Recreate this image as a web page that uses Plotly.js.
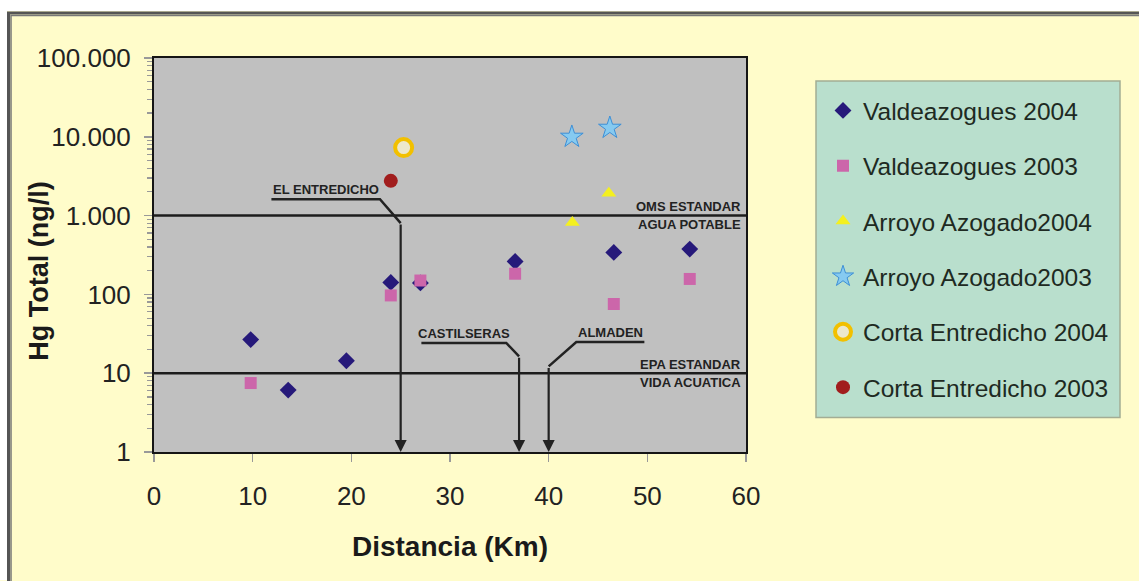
<!DOCTYPE html>
<html>
<head>
<meta charset="utf-8">
<script src="https://cdn.plot.ly/plotly-3.0.1.min.js"></script>
<style>html,body{margin:0;padding:0;background:#fff;}#chart{width:1139px;height:581px;}</style>
</head>
<body>
<div id="chart"></div>
<script>
// ---- data ----
const seriesNames = ["Valdeazogues 2004", "Valdeazogues 2003", "Arroyo Azogado2004", "Arroyo Azogado2003", "Corta Entredicho 2004", "Corta Entredicho 2003"];
const valde2004X = [9.8, 13.6, 19.5, 24.0, 27.0, 36.6, 46.6, 54.3];
const valde2004Y = [26.7, 6.1, 14.4, 142, 140, 262, 341, 376];
const valde2003X = [9.8, 24.0, 27.0, 36.6, 46.6, 54.3];
const valde2003Y = [7.5, 97, 150, 183, 75.5, 157];
const arroyo2004X = [42.4, 46.1];
const arroyo2004Y = [818, 1928];
const arroyo2003X = [42.35, 46.2];
const arroyo2003Y = [9980, 12970];
const corta2004X = [25.3];
const corta2004Y = [7300];
const corta2003X = [24.0];
const corta2003Y = [2760];

const yTickVals = [1, 10, 100, 1000, 10000, 100000];
const yTickText = ["1", "10", "100", "1.000", "10.000", "100.000"];
const xTitle = "Distancia (Km)";
const yTitle = "Hg Total (ng/l)";

// reference standards (ng/l)
const standardValues = [1000, 10];
const standardAbove = ["OMS ESTANDAR", "EPA ESTANDAR"];
const standardBelow = ["AGUA POTABLE", "VIDA ACUATICA"];

// sites along the river (km) and their label leaders
const siteNames = ["EL ENTREDICHO", "CASTILSERAS", "ALMADEN"];
const siteKm = [25, 37, 40];
const leaderX = [[11.9, 22.9], [27.1, 35.7], [49.7, 42.8]];
const leaderY = [[1618, 1618], [24.2, 24.2], [24.9, 24.9]];
const leaderBendY = [803, 16.4, 12.2];

// minor log ticks (2..9 in each decade)
const minorTickVals = [];
yTickVals.slice(0, -1).forEach(d => { for (let k = 2; k <= 9; k++) minorTickVals.push(d * k); });

// ---- layout helpers ----
const W = 1139, H = 581;
const M = {l: 154, r: 393, t: 58, b: 128.5};
const pw = W - M.l - M.r, ph = H - M.t - M.b;
const px = v => (v - M.l) / pw;
const py = v => (H - M.b - v) / ph;

const FONT = "Liberation Sans, Arial, Helvetica, sans-serif";
const traces = [];

// standard lines
standardValues.forEach(v => {
  traces.push({x: [0, 60], y: [v, v], mode: "lines", line: {color: "#1c1c1c", width: 2.5},
    showlegend: false, hoverinfo: "skip"});
});
// leader lines
siteNames.forEach((n, i) => {
  traces.push({x: [leaderX[i][0], leaderX[i][1], siteKm[i]], y: [leaderY[i][0], leaderY[i][1], leaderBendY[i]],
    mode: "lines", line: {color: "#222", width: 2.5}, showlegend: false, hoverinfo: "skip"});
});

const markerStyles = [
  {symbol: "diamond", size: 13, color: "#26197a"},
  {symbol: "square", size: 12, color: "#cc66aa"},
  {symbol: "triangle-up", size: 13, color: "#f4f01e"},
  {symbol: "star", size: 17, color: "#86caf0", line: {color: "#3d8fd6", width: 1}},
  {symbol: "circle", size: 17, color: "#ece8cc", line: {color: "#f2c000", width: 4}},
  {symbol: "circle", size: 14, color: "#a11d1d"}
];
const xs = [valde2004X, valde2003X, arroyo2004X, arroyo2003X, corta2004X, corta2003X];
const ys = [valde2004Y, valde2003Y, arroyo2004Y, arroyo2003Y, corta2004Y, corta2003Y];
seriesNames.forEach((n, i) => {
  traces.push({x: xs[i], y: ys[i], name: n, mode: "markers", type: "scatter",
    marker: markerStyles[i], legendgroup: "g" + i});
});

const annotations = [];
standardValues.forEach((v, i) => {
  annotations.push({x: 60, y: Math.log10(v), xref: "x", yref: "y", xanchor: "right", yanchor: "middle",
    xshift: -3, yshift: 9, text: standardAbove[i], showarrow: false,
    font: {family: FONT, size: 13, weight: "bold", color: "#222"}});
  annotations.push({x: 60, y: Math.log10(v), xref: "x", yref: "y", xanchor: "right", yanchor: "middle",
    xshift: -3, yshift: -9, text: standardBelow[i], showarrow: false,
    font: {family: FONT, size: 13, weight: "bold", color: "#222"}});
});
siteNames.forEach((n, i) => {
  annotations.push({x: (leaderX[i][0] + leaderX[i][1]) / 2, y: Math.log10(leaderY[i][0]), xref: "x", yref: "y",
    xanchor: "center", yanchor: "bottom", text: n, showarrow: false,
    font: {family: FONT, size: 13, weight: "bold", color: "#222"}});
  annotations.push({x: siteKm[i], y: 0, xref: "x", yref: "y", ax: siteKm[i], ay: Math.log10(leaderBendY[i]),
    axref: "x", ayref: "y", text: "", showarrow: true, arrowhead: 2, arrowsize: 1.1, arrowwidth: 2.2,
    arrowcolor: "#222", standoff: 0});
});
// y-axis title (placed as rotated text to sit where the original has it)
annotations.push({x: px(39), y: py(272), xref: "paper", yref: "paper", xanchor: "center", yanchor: "middle",
  textangle: -90, text: yTitle, showarrow: false,
  font: {family: FONT, size: 27, weight: "bold", color: "#1a1a1a"}});

const shapes = [
  // white outside strips
  {type: "rect", xref: "paper", yref: "paper", x0: px(0), x1: px(W), y0: py(0), y1: py(11), fillcolor: "#ffffff", line: {width: 0}, layer: "below"},
  {type: "rect", xref: "paper", yref: "paper", x0: px(0), x1: px(7), y0: py(0), y1: py(H), fillcolor: "#ffffff", line: {width: 0}, layer: "below"},
  // frame
  {type: "rect", xref: "paper", yref: "paper", x0: px(8.5), x1: px(W + 20), y0: py(H + 20), y1: py(13), line: {color: "#555", width: 3}, layer: "below"},
  {type: "rect", xref: "paper", yref: "paper", x0: px(11), x1: px(W + 20), y0: py(H + 20), y1: py(15.5), line: {color: "#777", width: 1.5}, layer: "below"},
  // legend box
  {type: "rect", xref: "paper", yref: "paper", x0: px(816), x1: px(1120), y0: py(418), y1: py(81), fillcolor: "#b9dfcd", line: {color: "#a3ad94", width: 1.5}, layer: "below"}
];

const layout = {
  width: W, height: H,
  margin: M,
  paper_bgcolor: "#fffcca",
  plot_bgcolor: "#c0c0c0",
  font: {family: FONT, color: "#222"},
  showlegend: true,
  legend: {x: px(823), y: py(88), xanchor: "left", yanchor: "top", bgcolor: "rgba(0,0,0,0)", borderwidth: 0,
    font: {family: FONT, size: 24.5, color: "#1e2a22"}, tracegroupgap: 20.5},
  xaxis: {range: [0, 60], dtick: 10, tick0: 0, ticks: "outside", ticklen: 8, tickcolor: "#999", tickwidth: 1.5,
    showline: true, mirror: true, linecolor: "#151515", linewidth: 2, showgrid: false, zeroline: false,
    tickfont: {family: FONT, size: 26, color: "#222"}, ticklabelstandoff: 12,
    title: {text: xTitle, font: {family: FONT, size: 28, weight: "bold", color: "#1a1a1a"}, standoff: 26}},
  yaxis: {type: "log", range: [0, 5], tickmode: "array", tickvals: yTickVals, ticktext: yTickText,
    ticks: "outside", ticklen: 8, tickcolor: "#999", tickwidth: 1.5,
    minor: {tickmode: "array", tickvals: minorTickVals, ticks: "outside", ticklen: 5, tickcolor: "#999", tickwidth: 1.2},
    showline: true, mirror: true, linecolor: "#151515", linewidth: 2, showgrid: false, zeroline: false,
    tickfont: {family: FONT, size: 26, color: "#222"}, ticklabelstandoff: 8},
  annotations: annotations,
  shapes: shapes
};

Plotly.newPlot("chart", traces, layout, {displayModeBar: false, staticPlot: true});
</script>
</body>
</html>
